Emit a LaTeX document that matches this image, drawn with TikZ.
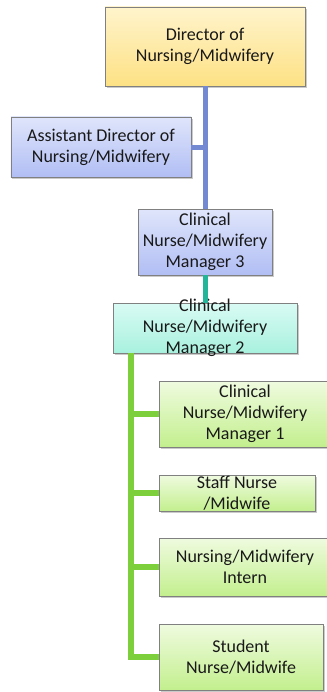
\documentclass[tikz,border=0pt]{standalone}
\usepackage{fontspec}
\setmainfont{Carlito}
\usetikzlibrary{shadows}
\definecolor{ytop}{HTML}{FFF4CC}\definecolor{ybot}{HTML}{FDE184}
\definecolor{btop}{HTML}{DFE5FB}\definecolor{bbot}{HTML}{B1BEF4}
\definecolor{ctop}{HTML}{D9FBF4}\definecolor{cbot}{HTML}{A8F1DE}
\definecolor{gtop}{HTML}{EFFBDF}\definecolor{gbot}{HTML}{C3EF8E}
\definecolor{bordc}{HTML}{808080}
\definecolor{lblue}{HTML}{7389D2}\definecolor{lteal}{HTML}{22B59A}\definecolor{lgreen}{HTML}{7ECF3C}
\tikzset{
  box/.style={draw=bordc, line width=0.9bp, inner sep=0pt, outer sep=0pt,
    drop shadow={shadow xshift=1.5bp, shadow yshift=-2bp, opacity=0.35, fill=black!60}},
  txt/.style={label={[align=center, font=\fontsize{18bp}{21bp}\selectfont, text=black!90]center:#1}},
  ybox/.style={box, top color=ytop, bottom color=ybot},
  bbox/.style={box, top color=btop, bottom color=bbot},
  cbox/.style={box, top color=ctop, bottom color=cbot},
  gbox/.style={box, top color=gtop, bottom color=gbot},
  conn/.style={line width=5bp},
}
\begin{document}
\begin{tikzpicture}[x=1bp,y=-1bp]
\useasboundingbox (0,0) rectangle (326,692);
\node[ybox, minimum width=200bp, minimum height=79bp, txt={Director of\\Nursing/Midwifery}] (dir) at (205,46.5) {};
\node[bbox, minimum width=180bp, minimum height=60bp, txt={Assistant Director of\\Nursing/Midwifery}] (asst) at (101,147) {};
\node[bbox, minimum width=134bp, minimum height=66bp, txt={Clinical\\Nurse/Midwifery\\Manager 3}] (cnm3) at (205,242) {};
\node[cbox, minimum width=184bp, minimum height=50bp, txt={Clinical\\Nurse/Midwifery\\Manager 2}] (cnm2) at (205,328) {};
\node[gbox, minimum width=172bp, minimum height=66bp, txt={Clinical\\Nurse/Midwifery\\Manager 1}] (cnm1) at (245,414) {};
\node[gbox, minimum width=156bp, minimum height=36bp, txt={Staff Nurse\\/Midwife}] (staff) at (237,493) {};
\node[gbox, minimum width=172bp, minimum height=58bp, txt={Nursing/Midwifery\\Intern}] (intern) at (245,567) {};
\node[gbox, minimum width=164bp, minimum height=66bp, txt={Student\\Nurse/Midwife}] (stud) at (241,657) {};
\coordinate (trunk) at (131,353);
\draw[lblue, conn] (dir.south) -- (cnm3.north);
\draw[lblue, conn] (asst.east) -- (asst.east -| dir.south);
\draw[lteal, conn] (cnm3.south) -- (cnm2.north);
\draw[lgreen, conn, line width=6bp] (trunk) |- (stud.west);
\draw[lgreen, conn, line width=6bp] (trunk |- cnm1.west) -- (cnm1.west);
\draw[lgreen, conn, line width=6bp] (trunk |- staff.west) -- (staff.west);
\draw[lgreen, conn, line width=6bp] (trunk |- intern.west) -- (intern.west);
\end{tikzpicture}
\end{document}
